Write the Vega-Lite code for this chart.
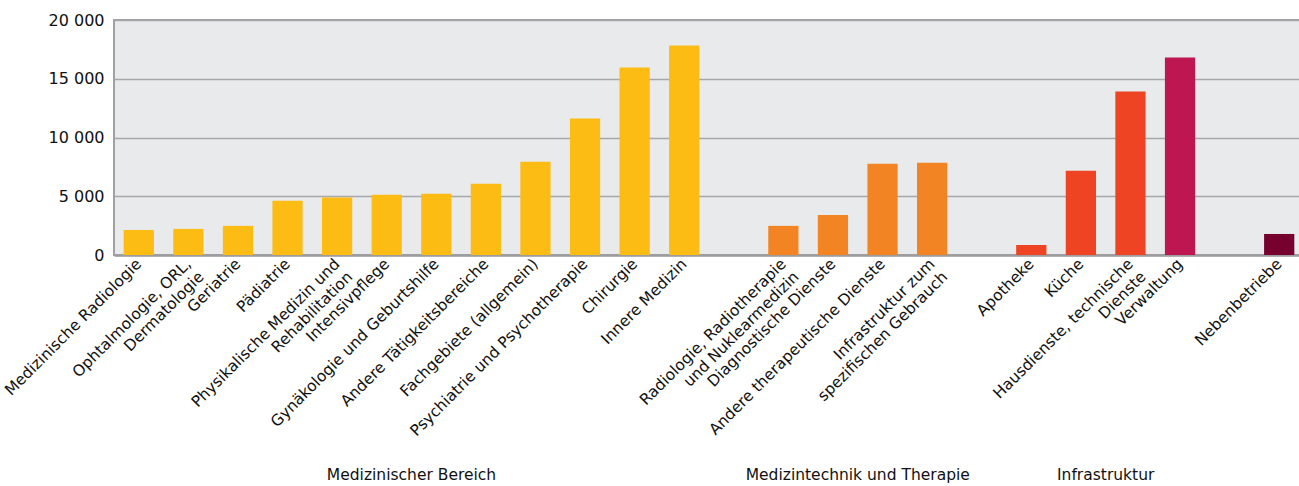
{
  "$schema": "https://vega.github.io/schema/vega-lite/v6.json",
  "autosize": "none",
  "padding": {"left": 114, "top": 20, "right": 0, "bottom": 231},
  "width": 1190,
  "height": 235,
  "background": "white",
  "config": {
    "font": "DejaVu Sans",
    "view": {"fill": "#E9EAEC", "stroke": "#A0A1A3", "strokeWidth": 2},
    "axis": {"labelColor": "#111111", "labelFont": "DejaVu Sans"}
  },
  "datasets": {
    "werte": [
      {"kategorie": "Medizinische Radiologie", "farbgruppe": "Medizinischer Bereich", "wert": 2130},
      {"kategorie": "Ophtalmologie, ORL,|Dermatologie", "farbgruppe": "Medizinischer Bereich", "wert": 2220},
      {"kategorie": "Geriatrie", "farbgruppe": "Medizinischer Bereich", "wert": 2480},
      {"kategorie": "Pädiatrie", "farbgruppe": "Medizinischer Bereich", "wert": 4610},
      {"kategorie": "Physikalische Medizin und|Rehabilitation", "farbgruppe": "Medizinischer Bereich", "wert": 4890},
      {"kategorie": "Intensivpflege", "farbgruppe": "Medizinischer Bereich", "wert": 5120},
      {"kategorie": "Gynäkologie und Geburtshilfe", "farbgruppe": "Medizinischer Bereich", "wert": 5210},
      {"kategorie": "Andere Tätigkeitsbereiche", "farbgruppe": "Medizinischer Bereich", "wert": 6060},
      {"kategorie": "Fachgebiete (allgemein)", "farbgruppe": "Medizinischer Bereich", "wert": 7940},
      {"kategorie": "Psychiatrie und Psychotherapie", "farbgruppe": "Medizinischer Bereich", "wert": 11610},
      {"kategorie": "Chirurgie", "farbgruppe": "Medizinischer Bereich", "wert": 15960},
      {"kategorie": "Innere Medizin", "farbgruppe": "Medizinischer Bereich", "wert": 17840},
      {"kategorie": "Radiologie, Radiotherapie|und Nuklearmedizin", "farbgruppe": "Medizintechnik und Therapie", "wert": 2480},
      {"kategorie": "Diagnostische Dienste", "farbgruppe": "Medizintechnik und Therapie", "wert": 3410},
      {"kategorie": "Andere therapeutische Dienste", "farbgruppe": "Medizintechnik und Therapie", "wert": 7770},
      {"kategorie": "Infrastruktur zum|spezifischen Gebrauch", "farbgruppe": "Medizintechnik und Therapie", "wert": 7850},
      {"kategorie": "Apotheke", "farbgruppe": "Infrastruktur", "wert": 850},
      {"kategorie": "Küche", "farbgruppe": "Infrastruktur", "wert": 7170},
      {"kategorie": "Hausdienste, technische|Dienste", "farbgruppe": "Infrastruktur", "wert": 13910},
      {"kategorie": "Verwaltung", "farbgruppe": "Verwaltung", "wert": 16810},
      {"kategorie": "Nebenbetriebe", "farbgruppe": "Nebenbetriebe", "wert": 1790}
    ],
    "bereiche": [
      {"bereich": "Medizinischer Bereich", "mitte": "Intensivpflege"},
      {"bereich": "Medizintechnik und Therapie", "mitte": "Diagnostische Dienste"},
      {"bereich": "Infrastruktur", "mitte": "Küche"}
    ]
  },
  "layer": [
    {
      "data": {"name": "werte"},
      "mark": {"type": "bar", "width": {"band": 0.61}},
      "encoding": {
        "x": {
          "field": "kategorie",
          "type": "nominal",
          "sort": null,
          "scale": {
            "domain": ["Medizinische Radiologie", "Ophtalmologie, ORL,|Dermatologie", "Geriatrie", "Pädiatrie", "Physikalische Medizin und|Rehabilitation", "Intensivpflege", "Gynäkologie und Geburtshilfe", "Andere Tätigkeitsbereiche", "Fachgebiete (allgemein)", "Psychiatrie und Psychotherapie", "Chirurgie", "Innere Medizin", "_1", "Radiologie, Radiotherapie|und Nuklearmedizin", "Diagnostische Dienste", "Andere therapeutische Dienste", "Infrastruktur zum|spezifischen Gebrauch", "_2", "Apotheke", "Küche", "Hausdienste, technische|Dienste", "Verwaltung", "_3", "Nebenbetriebe"],
            "paddingInner": 0,
            "paddingOuter": 0
          },
          "axis": {
            "title": null,
            "labelAngle": -45,
            "labelAlign": "right",
            "labelBaseline": "middle",
            "labelFontSize": 15.5,
            "labelPadding": 6,
            "labelLimit": 0,
            "labelOverlap": false,
            "labelBound": false,
            "labelLineHeight": 18,
            "ticks": false,
            "domainColor": "#9C9D9F",
            "domainWidth": 2.5,
            "labelExpr": "indexof(datum.label, '_') == 0 ? '' : split(datum.label, '|')"
          }
        },
        "y": {
          "field": "wert",
          "type": "quantitative",
          "scale": {"domain": [0, 20000], "nice": false},
          "axis": {
            "title": null,
            "values": [0, 5000, 10000, 15000, 20000],
            "labelExpr": "replace(format(datum.value, ','), ',', ' ')",
            "labelFontSize": 16,
            "labelPadding": 10,
            "ticks": false,
            "domain": false,
            "gridColor": "#A6A7A9",
            "gridWidth": 1.5
          }
        },
        "color": {
          "field": "farbgruppe",
          "type": "nominal",
          "scale": {
            "domain": ["Medizinischer Bereich", "Medizintechnik und Therapie", "Infrastruktur", "Verwaltung", "Nebenbetriebe"],
            "range": ["#FCBC14", "#F38424", "#EE4424", "#BE1650", "#76002E"]
          },
          "legend": null
        }
      }
    },
    {
      "data": {"name": "bereiche"},
      "mark": {"type": "text", "y": "height", "dy": 220, "fontSize": 15.5, "color": "#111111", "align": "center", "baseline": "middle"},
      "encoding": {
        "x": {"field": "mitte", "type": "nominal", "bandPosition": 1},
        "text": {"field": "bereich"}
      }
    }
  ]
}
